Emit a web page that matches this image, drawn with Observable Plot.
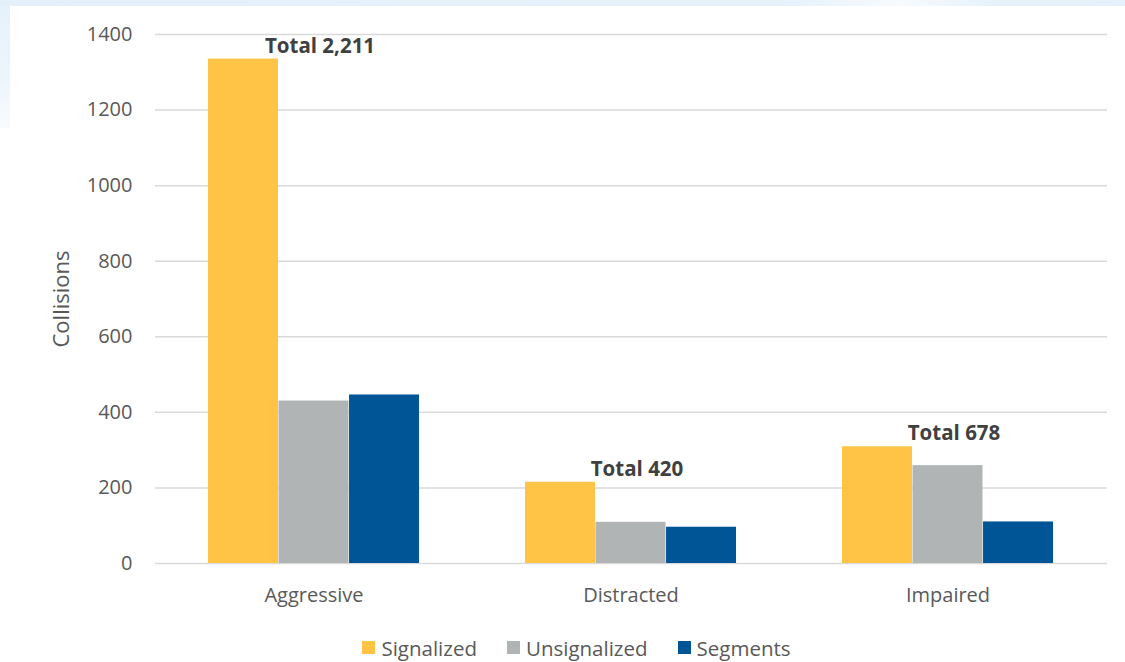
<!DOCTYPE html>
<html>
<head>
<meta charset="utf-8">
<script src="https://cdn.jsdelivr.net/npm/d3@7"></script>
<script src="https://cdn.jsdelivr.net/npm/@observablehq/plot@0.6"></script>
<style>
  html, body { margin: 0; padding: 0; background: #ffffff; }
  body { width: 1125px; height: 662px; position: relative; overflow: hidden; font-family: "Open Sans", sans-serif; }
  #topstrip { position: absolute; left: 0; top: 0; width: 1125px; height: 6px; z-index: 2;
    background: linear-gradient(90deg, #e3f0fa 0%, #e6f2fb 70%, #f7fbfe 80%, #e6f2fb 88%, #e4f1fb 100%); }
  #leftstrip { position: absolute; left: 0; top: 6px; width: 10px; height: 122px; z-index: 2;
    background: linear-gradient(180deg, #e6f2fb 0%, #edf5fc 60%, #f8fbfe 100%); }
  #legend { display: flex; justify-content: center; align-items: center; height: 37px; padding-left: 28px;
    font-family: "Open Sans", sans-serif; font-size: 20.5px; color: #595959; box-sizing: border-box; padding-top: 8px; }
  .item { display: flex; align-items: center; margin: 0 15px; }
  .sw { width: 13px; height: 13px; margin-right: 6px; }
</style>
</head>
<body>
<div id="topstrip"></div>
<div id="leftstrip"></div>
<div id="chart"></div>
<div id="legend"></div>
<script>
const categories = ["Aggressive", "Distracted", "Impaired"];
const series = ["Signalized", "Unsignalized", "Segments"];
const signalized = [1335, 215, 309];
const unsignalized = [430, 109, 259];
const segments = [446, 96, 110];
const totals = [2211, 420, 678];
const yTicks = [0, 200, 400, 600, 800, 1000, 1200, 1400];
const colors = ["#FFC345", "#B1B4B5", "#005596"];

const seriesValues = [signalized, unsignalized, segments];
const data = [];
series.forEach((s, i) => categories.forEach((c, j) => data.push({cat: c, series: s, value: seriesValues[i][j]})));
const labels = categories.map((c, j) => ({
  cat: c,
  top: d3.max(seriesValues, v => v[j]),
  text: "Total " + d3.format(",")(totals[j])
}));

const W = 1125, H = 625, ML = 155, MR = 18, MT = 34, MB = 62;
const bandwidth = (W - ML - MR) / categories.length * (2 / 3);
const sub = bandwidth / series.length;

const plot = Plot.plot({
  width: W, height: H,
  marginLeft: ML, marginRight: MR, marginTop: MT, marginBottom: MB,
  style: {fontFamily: "Open Sans, sans-serif", fontSize: "20px", color: "#595959", background: "transparent"},
  x: {domain: categories, paddingInner: 1/3, paddingOuter: 1/6, label: null},
  y: {domain: [0, 1400], label: null},
  marks: [
    Plot.ruleY(yTicks, {stroke: "#d9d9d9", strokeWidth: 1.5}),
    ...series.map((s, i) => Plot.barY(data.filter(d => d.series === s), {
      x: "cat", y: "value", fill: colors[i],
      insetLeft: i * sub, insetRight: (series.length - 1 - i) * sub
    })),
    Plot.axisY({ticks: yTicks, tickFormat: d3.format("d"), tickSize: 0, tickPadding: 23, label: null, fontSize: 20}),
    Plot.axisX({tickSize: 0, tickPadding: 24, label: null, fontSize: 20}),
    Plot.text(labels, {x: "cat", y: "top", text: "text", dy: -13, dx: 6,
      fontWeight: "bold", fontSize: 20.5, fill: "#404040"}),
    Plot.text(["Collisions"], {frameAnchor: "left", textAnchor: "middle", rotate: -90, dx: -94, fontSize: 22, fill: "#595959"})
  ]
});
document.getElementById("chart").appendChild(plot);

const legend = document.getElementById("legend");
series.forEach((s, i) => {
  const item = document.createElement("div");
  item.className = "item";
  const sw = document.createElement("div");
  sw.className = "sw";
  sw.style.background = colors[i];
  const t = document.createElement("span");
  t.textContent = s;
  item.appendChild(sw);
  item.appendChild(t);
  legend.appendChild(item);
});
</script>
</body>
</html>
